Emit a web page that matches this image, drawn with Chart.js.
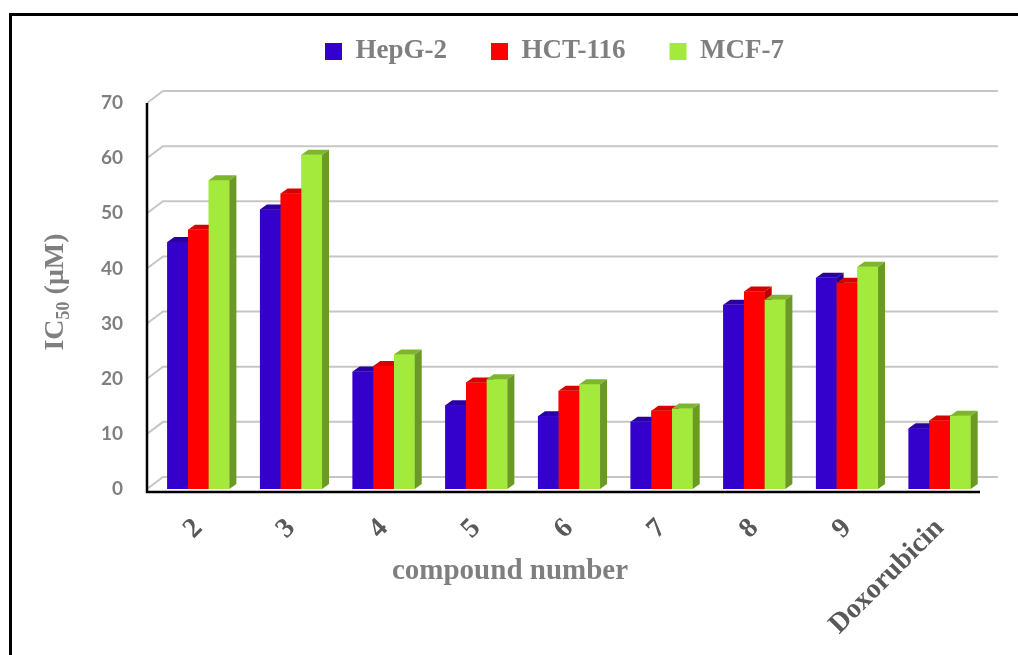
<!DOCTYPE html>
<html>
<head>
<meta charset="utf-8">
<script src="https://cdn.jsdelivr.net/npm/chart.js@4/dist/chart.umd.min.js"></script>
<style>
  html, body { margin: 0; padding: 0; background: #fff; }
  #ic50-chart { display: block; }
</style>
</head>
<body>
<canvas id="ic50-chart" width="1018" height="655"></canvas>
<script>
/* IC50 of compounds 2-9 vs doxorubicin on three cell lines */

const compounds = ['2', '3', '4', '5', '6', '7', '8', '9', 'Doxorubicin'];
const hepg2  = [44.8, 50.7, 21.3, 15.2, 13.2, 12.2, 33.4, 38.3, 11.0];
const hct116 = [47.0, 53.6, 22.3, 19.3, 17.8, 14.2, 35.8, 37.4, 12.4];
const mcf7   = [56.0, 60.6, 24.4, 19.9, 19.0, 14.6, 34.3, 40.3, 13.3];
const yTicks = [0, 10, 20, 30, 40, 50, 60, 70];

const GREY = '#7f7f7f';
const SERIF = '"Liberation Serif", "DejaVu Serif", serif';

// front / top / side colours of the 3D columns
const faces = [
    { front: '#3300cc', top: '#2a00a3', side: '#230085' },
    { front: '#ff0000', top: '#d90000', side: '#b80000' },
    { front: '#a4ea3c', top: '#7db52e', side: '#6a9a24' },
];
const DEPTH_X = 7, DEPTH_Y = 5;     // column depth
const WALL_X = 16, WALL_Y = 12;     // back wall offset

function poly(ctx, pts) {
    ctx.beginPath();
    ctx.moveTo(pts[0][0], pts[0][1]);
    for (let i = 1; i < pts.length; i++) ctx.lineTo(pts[i][0], pts[i][1]);
    ctx.closePath();
    ctx.fill();
}

// legend sits higher than chart.js would put it, leave room under it
const legendGap = {
    id: 'legendGap',
    afterInit(chart) {
        const legend = chart.legend;
        const fit = legend.fit;
        legend.fit = function () { fit.call(this); this.height += 28; };
    },
};

// back wall grid + black axis lines
const wallGrid = {
    id: 'wallGrid',
    beforeDatasetsDraw(chart) {
        const { ctx, chartArea, scales: { y } } = chart;
        const ax = chartArea.left - 5;
        ctx.save();
        ctx.strokeStyle = '#c6c6c6';
        ctx.lineWidth = 2;
        yTicks.forEach(v => {
            const py = y.getPixelForValue(v);
            ctx.beginPath();
            ctx.moveTo(ax, py);
            ctx.lineTo(ax + WALL_X, py - WALL_Y);
            ctx.lineTo(chartArea.right + 12, py - WALL_Y);
            ctx.stroke();
        });
        ctx.strokeStyle = '#000';
        ctx.lineWidth = 2.5;
        ctx.beginPath();
        ctx.moveTo(ax, y.getPixelForValue(70));
        ctx.lineTo(ax, chartArea.bottom + 3);
        ctx.lineTo(chartArea.right - 6, chartArea.bottom + 3);
        ctx.stroke();
        ctx.restore();
    },
};

// redraw each column with its top and side faces, left to right
const bars3d = {
    id: 'bars3d',
    afterDatasetsDraw(chart) {
        const ctx = chart.ctx;
        const metas = chart.data.datasets.map((_, i) => chart.getDatasetMeta(i));
        ctx.save();
        for (let j = 0; j < compounds.length; j++) {
            metas.forEach((meta, d) => {
                const { x, y, base, width } = meta.data[j].getProps(['x', 'y', 'base', 'width'], true);
                const l = x - width / 2, r = x + width / 2;
                const f = faces[d];
                ctx.fillStyle = f.front;
                ctx.fillRect(l, y, width, base - y);
                ctx.fillStyle = f.top;
                poly(ctx, [[l, y], [l + DEPTH_X, y - DEPTH_Y], [r + DEPTH_X, y - DEPTH_Y], [r, y]]);
                ctx.fillStyle = f.side;
                poly(ctx, [[r, y], [r + DEPTH_X, y - DEPTH_Y], [r + DEPTH_X, base - DEPTH_Y], [r, base]]);
            });
        }
        ctx.restore();
    },
};

// frame and axis titles
const frameAndTitles = {
    id: 'frameAndTitles',
    afterDraw(chart) {
        const ctx = chart.ctx;
        ctx.save();
        ctx.strokeStyle = '#000';
        ctx.lineWidth = 3;
        ctx.strokeRect(10.5, 14.5, 1200, 1200);

        ctx.fillStyle = GREY;
        ctx.textBaseline = 'middle';
        ctx.textAlign = 'center';
        ctx.font = 'bold 29px ' + SERIF;
        ctx.fillText('compound number', 510, 572);

        // IC50 (μM), rotated, with subscript
        const big = 'bold 28px ' + SERIF, small = 'bold 18px ' + SERIF;
        ctx.font = big;
        const wIC = ctx.measureText('IC').width;
        const wRest = ctx.measureText(' (μM)').width;
        ctx.font = small;
        const wSub = ctx.measureText('50').width;
        const total = wIC + wSub + wRest;
        ctx.translate(54, 292);
        ctx.rotate(-Math.PI / 2);
        ctx.textAlign = 'left';
        ctx.textBaseline = 'alphabetic';
        let cx = -total / 2;
        ctx.font = big;
        ctx.fillText('IC', cx, 9);
        cx += wIC;
        ctx.font = small;
        ctx.fillText('50', cx, 15);
        cx += wSub;
        ctx.font = big;
        ctx.fillText(' (μM)', cx, 9);
        ctx.restore();
    },
};

new Chart(document.getElementById('ic50-chart'), {
    type: 'bar',
    data: {
        labels: compounds,
        datasets: [
            { label: 'HepG-2', data: hepg2, backgroundColor: faces[0].front },
            { label: 'HCT-116', data: hct116, backgroundColor: faces[1].front },
            { label: 'MCF-7', data: mcf7, backgroundColor: faces[2].front },
        ],
    },
    options: {
        responsive: false,
        animation: false,
        devicePixelRatio: 1,
        layout: { padding: { left: 123, right: 32, top: -6, bottom: 0 } },
        datasets: { bar: { categoryPercentage: 0.67, barPercentage: 1, borderWidth: 0 } },
        plugins: {
            legend: {
                position: 'top',
                labels: {
                    boxWidth: 17,
                    boxHeight: 17,
                    padding: 44,
                    color: GREY,
                    font: { family: SERIF, size: 27, weight: 'bold' },
                },
            },
            tooltip: { enabled: false },
        },
        scales: {
            x: {
                grid: { display: false, drawTicks: false },
                border: { display: false },
                ticks: {
                    autoSkip: false,
                    minRotation: 45,
                    maxRotation: 45,
                    padding: 23,
                    color: '#595959',
                    font: { family: SERIF, size: 28, weight: 'bold' },
                },
                afterFit: s => { s.height = 166; },
            },
            y: {
                min: 0,
                max: 70,
                grid: { display: false, drawTicks: false },
                border: { display: false },
                // labels hang left of the narrow axis box (not clipped when mirrored)
                ticks: {
                    stepSize: 10,
                    mirror: true,
                    crossAlign: 'far',
                    padding: -51,
                    color: GREY,
                    font: { family: 'Lato', size: 19, weight: 'bold' },
                },
                afterFit: s => { s.width = 29; },
            },
        },
    },
    plugins: [legendGap, wallGrid, bars3d, frameAndTitles],
});
</script>
</body>
</html>
